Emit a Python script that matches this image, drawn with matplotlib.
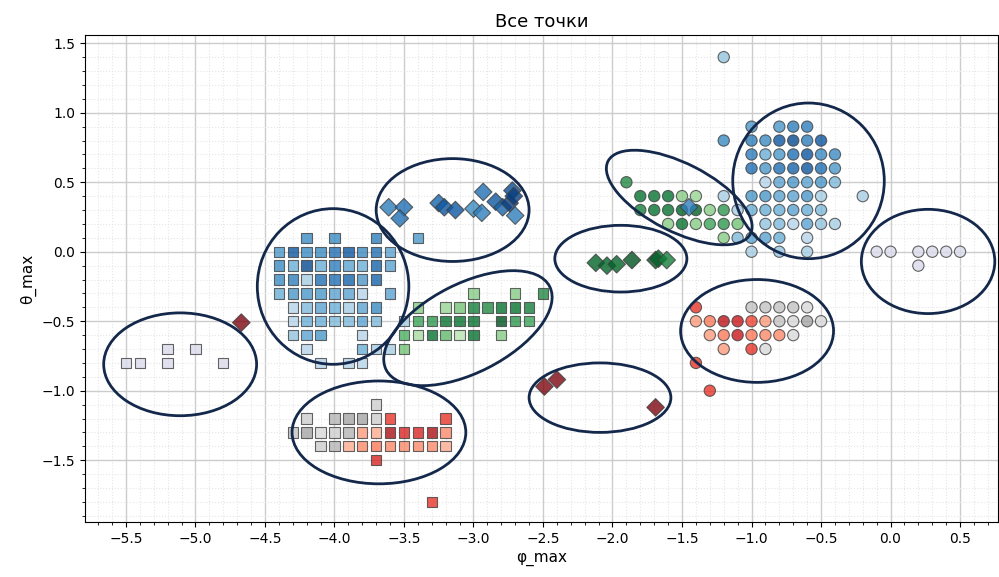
import matplotlib
matplotlib.use("Agg")
import matplotlib.pyplot as plt
from matplotlib.patches import Ellipse
from matplotlib.ticker import MultipleLocator

# squares: (phi, theta, shade)
sq_blue_x = [-4.2, -4.0, -3.7, -3.4,
             -4.4, -4.3, -4.2, -4.1, -4.0, -3.9, -3.8, -3.7, -3.6,
             -4.4, -4.3, -4.2, -4.1, -4.0, -3.9, -3.8, -3.7, -3.6,
             -4.4, -4.3, -4.2, -4.1, -4.0, -3.9, -3.8, -3.7,
             -4.4, -4.3, -4.2, -4.1, -4.0, -3.9, -3.8, -3.6,
             -4.3, -4.2, -4.1, -4.0, -3.9, -3.8, -3.7,
             -4.3, -4.2, -4.1, -4.0, -3.9, -3.8, -3.7, -3.5,
             -4.3, -4.2, -4.1, -3.8,
             -4.2, -3.8, -3.7, -3.6,
             -4.1, -3.9, -3.8]
sq_blue_y = [0.1] * 4 + [0.0] * 9 + [-0.1] * 9 + [-0.2] * 8 + [-0.3] * 8 + [-0.4] * 7 + [-0.5] * 8 + [-0.6] * 4 + [-0.7] * 4 + [-0.8] * 3
sq_blue_c = [0.65, 0.65, 0.7, 0.6,
             0.6, 0.85, 0.65, 0.65, 0.75, 0.85, 0.65, 0.75, 0.55,
             0.65, 0.5, 0.9, 0.5, 0.7, 0.55, 0.5, 0.8, 0.55,
             0.65, 0.7, 0.35, 0.75, 0.75, 0.8, 0.6, 0.8,
             0.5, 0.6, 0.6, 0.6, 0.55, 0.55, 0.3, 0.55,
             0.3, 0.45, 0.55, 0.5, 0.35, 0.55, 0.65,
             0.3, 0.5, 0.5, 0.45, 0.45, 0.55, 0.45, 0.35,
             0.4, 0.55, 0.6, 0.3,
             0.3, 0.5, 0.35, 0.35,
             0.3, 0.3, 0.3]

sq_green_x = [-3.0, -2.7, -2.5,
              -3.4, -3.2, -3.1, -3.0, -2.9, -2.8, -2.7, -2.6,
              -3.4, -3.3, -3.2, -3.1, -3.0, -2.8, -2.7, -2.6,
              -3.5, -3.4, -3.3, -3.2, -3.1, -3.0, -2.8,
              -3.5]
sq_green_y = [-0.3] * 3 + [-0.4] * 8 + [-0.5] * 8 + [-0.6] * 7 + [-0.7]
sq_green_c = [0.45, 0.45, 0.75,
              0.45, 0.4, 0.5, 0.8, 0.75, 0.85, 0.85, 0.8,
              0.65, 0.7, 0.85, 0.85, 0.85, 0.95, 0.7, 0.65,
              0.6, 0.35, 0.85, 0.55, 0.3, 0.85, 0.45,
              0.5]

sq_grey_x = [-3.7, -4.2, -4.0, -3.9, -3.8, -3.7, -4.3, -4.2, -4.1, -4.0, -3.9, -4.1, -4.0]
sq_grey_y = [-1.1, -1.2, -1.2, -1.2, -1.2, -1.2, -1.3, -1.3, -1.3, -1.3, -1.3, -1.4, -1.4]
sq_grey_c = [0.3, 0.3, 0.4, 0.45, 0.45, 0.3, 0.35, 0.45, 0.25, 0.3, 0.4, 0.3, 0.4]

sq_red_x = [-3.6, -3.2, -3.8, -3.7, -3.6, -3.5, -3.4, -3.3, -3.2,
            -3.9, -3.8, -3.7, -3.6, -3.5, -3.4, -3.3, -3.2, -3.7, -3.3]
sq_red_y = [-1.2, -1.2] + [-1.3] * 7 + [-1.4] * 8 + [-1.5, -1.8]
sq_red_c = [0.65, 0.65, 0.35, 0.3, 0.85, 0.7, 0.7, 0.85, 0.4,
            0.3, 0.4, 0.45, 0.4, 0.4, 0.4, 0.4, 0.3, 0.7, 0.65]

sq_purple_x = [-5.5, -5.4, -5.2, -5.2, -5.0, -4.8]
sq_purple_y = [-0.8, -0.8, -0.7, -0.8, -0.7, -0.8]

# circles
ci_blue_x = [-1.2, -1.2,
             -1.0, -0.8, -0.7, -0.6,
             -1.0, -0.9, -0.8, -0.7, -0.6, -0.5,
             -1.0, -0.9, -0.8, -0.7, -0.6, -0.5, -0.4,
             -1.0, -0.9, -0.8, -0.7, -0.6, -0.5, -0.4,
             -0.9, -0.8, -0.7, -0.6, -0.5, -0.4,
             -1.2, -1.0, -0.9, -0.8, -0.7, -0.6, -0.5, -0.2,
             -1.1, -1.0, -0.9, -0.8, -0.7, -0.6, -0.5,
             -0.9, -0.8, -0.7, -0.6, -0.5, -0.4,
             -1.1, -1.0, -0.9, -0.8, -0.6,
             -1.0, -0.8, -0.6]
ci_blue_y = [1.4, 0.8] + [0.9] * 4 + [0.8] * 6 + [0.7] * 7 + [0.6] * 7 + [0.5] * 6 + [0.4] * 8 + [0.3] * 7 + [0.2] * 6 + [0.1] * 5 + [0.0] * 3
ci_blue_c = [0.4, 0.65,
             0.6, 0.6, 0.7, 0.7,
             0.7, 0.65, 0.85, 0.9, 0.7, 0.85,
             0.7, 0.5, 0.6, 0.75, 0.85, 0.65, 0.65,
             0.75, 0.6, 0.75, 0.8, 0.85, 0.75, 0.6,
             0.3, 0.55, 0.6, 0.55, 0.6, 0.45,
             0.35, 0.6, 0.6, 0.55, 0.55, 0.6, 0.35, 0.35,
             0.35, 0.5, 0.5, 0.5, 0.55, 0.5, 0.45,
             0.4, 0.45, 0.3, 0.55, 0.4, 0.35,
             0.45, 0.55, 0.55, 0.5, 0.3,
             0.35, 0.4, 0.35]

ci_green_x = [-1.9,
              -1.8, -1.7, -1.6, -1.5, -1.4,
              -1.8, -1.7, -1.6, -1.5, -1.4, -1.3, -1.2,
              -1.6, -1.5, -1.4, -1.3, -1.2, -1.1,
              -1.2]
ci_green_y = [0.5] + [0.4] * 5 + [0.3] * 7 + [0.2] * 6 + [0.1]
ci_green_c = [0.75,
              0.85, 0.85, 0.85, 0.45, 0.4,
              0.8, 0.85, 0.85, 0.9, 0.9, 0.45, 0.7,
              0.45, 0.85, 0.45, 0.65, 0.7, 0.5,
              0.45]

ci_red_x = [-1.4,
            -1.4, -1.3, -1.2, -1.1, -1.0, -0.9,
            -1.3, -1.2, -1.1, -1.0, -0.9, -0.8,
            -1.2, -1.0,
            -1.4, -1.3]
ci_red_y = [-0.4] + [-0.5] * 6 + [-0.6] * 6 + [-0.7] * 2 + [-0.8, -1.0]
ci_red_c = [0.65,
            0.35, 0.45, 0.8, 0.75, 0.6, 0.35,
            0.35, 0.45, 0.75, 0.45, 0.4, 0.4,
            0.35, 0.65,
            0.65, 0.65]

ci_grey_x = [-1.0, -0.9, -0.8, -0.7, -0.6, -0.8, -0.7, -0.6, -0.5, -0.7, -0.9]
ci_grey_y = [-0.4, -0.4, -0.4, -0.4, -0.4, -0.5, -0.5, -0.5, -0.5, -0.6, -0.7]
ci_grey_c = [0.35, 0.35, 0.35, 0.35, 0.25, 0.35, 0.25, 0.45, 0.25, 0.25, 0.25]

ci_purple_x = [-0.1, 0.0, 0.2, 0.3, 0.4, 0.5, 0.2]
ci_purple_y = [0.0, 0.0, 0.0, 0.0, 0.0, 0.0, -0.1]

# diamonds
di_blue_x = [-3.61, -3.50, -3.53, -3.25, -3.21, -3.13, -3.00, -2.94, -2.93,
             -2.84, -2.79, -2.74, -2.72, -2.71, -2.70, -1.45]
di_blue_y = [0.32, 0.32, 0.24, 0.35, 0.32, 0.30, 0.31, 0.28, 0.43,
             0.36, 0.32, 0.35, 0.44, 0.40, 0.26, 0.32]
di_blue_c = [0.7, 0.75, 0.75, 0.8, 0.85, 0.85, 0.65, 0.7, 0.75,
             0.85, 0.8, 0.95, 0.9, 0.95, 0.7, 0.7]

di_green_x = [-2.12, -2.04, -1.97, -1.86, -1.69, -1.67, -1.61]
di_green_y = [-0.08, -0.10, -0.09, -0.06, -0.06, -0.05, -0.06]
di_green_c = [0.9, 0.9, 0.9, 0.95, 0.95, 0.9, 0.8]

di_red_x = [-4.67, -2.49, -2.40, -1.69]
di_red_y = [-0.51, -0.97, -0.92, -1.12]

# cluster outlines: centre x, centre y, width, height, angle
ell_x = [-4.01, -3.15, -3.04, -1.52, -0.59, -1.94, -2.09, -0.96, -3.68, -5.11, 0.27]
ell_y = [-0.25, 0.30, -0.55, 0.39, 0.51, -0.05, -1.05, -0.57, -1.30, -0.81, -0.07]
ell_w = [1.09, 1.10, 1.32, 1.15, 1.09, 0.95, 1.02, 1.10, 1.25, 1.10, 0.96]
ell_h = [1.12, 0.74, 0.64, 0.49, 1.12, 0.48, 0.50, 0.74, 0.74, 0.74, 0.75]
ell_a = [0, 0, 27, -27, 0, 0, 0, 0, 0, 0, 0]

fig = plt.figure(figsize=(9.99, 5.77), dpi=100)
ax = fig.add_axes([0.085, 0.095, 0.914, 0.844])

common = dict(alpha=0.8, edgecolors="0.25", linewidths=0.8, vmin=0, vmax=1, zorder=3)
sq_size, ci_size, di_size = 56, 66, 80

ax.scatter(sq_blue_x, sq_blue_y, c=sq_blue_c, cmap="Blues", marker="s", s=sq_size, **common)
ax.scatter(sq_green_x, sq_green_y, c=sq_green_c, cmap="Greens", marker="s", s=sq_size, **common)
ax.scatter(sq_grey_x, sq_grey_y, c=sq_grey_c, cmap="Greys", marker="s", s=sq_size, **common)
ax.scatter(sq_red_x, sq_red_y, c=sq_red_c, cmap="Reds", marker="s", s=sq_size, **common)
ax.scatter(sq_purple_x, sq_purple_y, c=[0.25] * len(sq_purple_x), cmap="Purples", marker="s", s=sq_size, **common)

ax.scatter(ci_blue_x, ci_blue_y, c=ci_blue_c, cmap="Blues", marker="o", s=ci_size, **common)
ax.scatter(ci_green_x, ci_green_y, c=ci_green_c, cmap="Greens", marker="o", s=ci_size, **common)
ax.scatter(ci_grey_x, ci_grey_y, c=ci_grey_c, cmap="Greys", marker="o", s=ci_size, **common)
ax.scatter(ci_red_x, ci_red_y, c=ci_red_c, cmap="Reds", marker="o", s=ci_size, **common)
ax.scatter(ci_purple_x, ci_purple_y, c=[0.25] * len(ci_purple_x), cmap="Purples", marker="o", s=ci_size, **common)

ax.scatter(di_blue_x, di_blue_y, c=di_blue_c, cmap="Blues", marker="D", s=di_size, **common)
ax.scatter(di_green_x, di_green_y, c=di_green_c, cmap="Greens", marker="D", s=di_size, **common)
ax.scatter(di_red_x, di_red_y, c=[0.95] * len(di_red_x), cmap="Reds", marker="D", s=di_size, **common)

for cx, cy, w, h, a in zip(ell_x, ell_y, ell_w, ell_h, ell_a):
    ax.add_patch(Ellipse((cx, cy), w, h, angle=a, fill=False,
                         edgecolor="#14284b", linewidth=2, zorder=4))

ax.set_xlim(-5.795, 0.773)
ax.set_ylim(-1.946, 1.558)
ax.xaxis.set_major_locator(MultipleLocator(0.5))
ax.yaxis.set_major_locator(MultipleLocator(0.5))
ax.xaxis.set_minor_locator(MultipleLocator(0.1))
ax.yaxis.set_minor_locator(MultipleLocator(0.1))
ax.grid(True, which="major", color="0.8", linewidth=1.0)
ax.grid(True, which="minor", color="0.9", linestyle=":", linewidth=0.8)
ax.set_axisbelow(True)

ax.set_title("Все точки", fontsize=13)
ax.set_xlabel("φ_max", fontsize=11)
ax.set_ylabel("θ_max", fontsize=11)

fig.savefig("out.png", dpi=100)
